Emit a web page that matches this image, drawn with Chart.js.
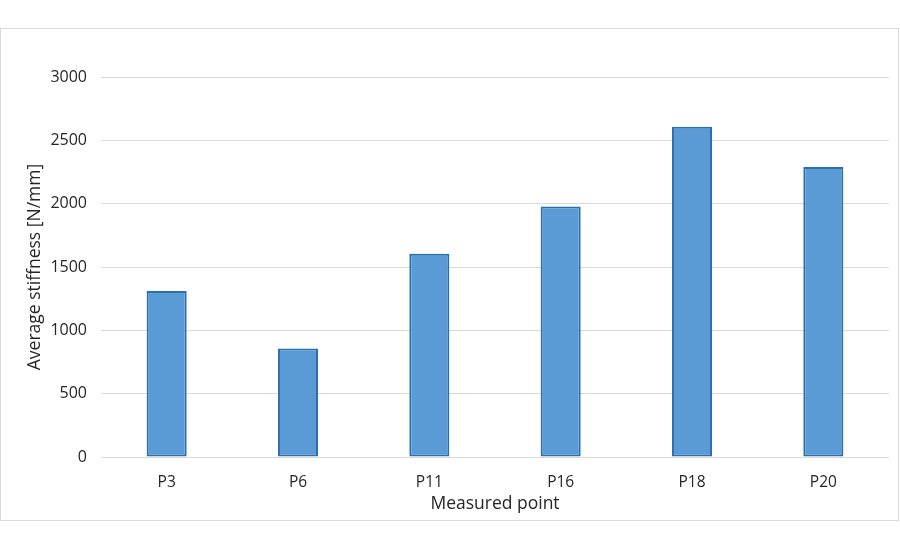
<!DOCTYPE html>
<html>
<head>
<meta charset="utf-8">
<script src="https://cdn.jsdelivr.net/npm/chart.js@4.4.1/dist/chart.umd.min.js"></script>
<style>
html,body{margin:0;padding:0;background:#fff;}
#wrap{width:900px;height:550px;position:relative;}
</style>
</head>
<body>
<div id="wrap"><canvas id="c" width="900" height="550"></canvas></div>
<script>
const categories = ['P3', 'P6', 'P11', 'P16', 'P18', 'P20'];
const stiffness = [1310, 857, 1605, 1978, 2607, 2290];
const yTicks = [0, 500, 1000, 1500, 2000, 2500, 3000];
const xTitle = 'Measured point';
const yTitle = 'Average stiffness [N/mm]';

const FONT = "'Open Sans', 'Noto Sans', sans-serif";
const TEXT = '#262626';

const framePlugin = {
  id: 'frame',
  beforeDraw(chart) {
    const ctx = chart.ctx;
    ctx.save();
    ctx.fillStyle = '#ffffff';
    ctx.fillRect(0, 0, chart.width, chart.height);
    ctx.strokeStyle = '#d9d9d9';
    ctx.lineWidth = 1;
    ctx.strokeRect(0.5, 28.5, 898, 492);
    ctx.restore();
  }
};

new Chart(document.getElementById('c'), {
  type: 'bar',
  data: {
    labels: categories,
    datasets: [{
      data: stiffness,
      backgroundColor: '#5b9bd5',
      borderColor: '#2a6fae',
      borderWidth: 2,
      borderSkipped: false,
      barPercentage: 0.61,
      categoryPercentage: 0.5
    }]
  },
  options: {
    responsive: false,
    animation: false,
    devicePixelRatio: 1,
    layout: { padding: { left: 20, right: 11, top: 77, bottom: 31 } },
    plugins: { legend: { display: false }, tooltip: { enabled: false } },
    scales: {
      x: {
        grid: { display: false, drawTicks: false },
        border: { display: false },
        ticks: { color: TEXT, font: { family: FONT, size: 15.5 }, padding: 16 },
        title: { display: true, text: xTitle, color: TEXT, font: { family: FONT, size: 17.5 }, padding: { top: 0, bottom: 4 } },
        afterFit(s) { s.height = 62; }
      },
      y: {
        min: 0, max: 3000,
        afterBuildTicks(s) { s.ticks = yTicks.map(v => ({ value: v })); },
        grid: { color: '#d9d9d9', lineWidth: 1, drawTicks: false },
        border: { display: false },
        ticks: { color: TEXT, font: { family: FONT, size: 16 }, padding: 14, callback: v => String(v) },
        title: { display: true, text: yTitle, color: TEXT, font: { family: FONT, size: 17.5 }, padding: { top: 5, bottom: 0 } },
        afterFit(s) { s.width = 81; }
      }
    }
  },
  plugins: [framePlugin]
});
</script>
</body>
</html>
